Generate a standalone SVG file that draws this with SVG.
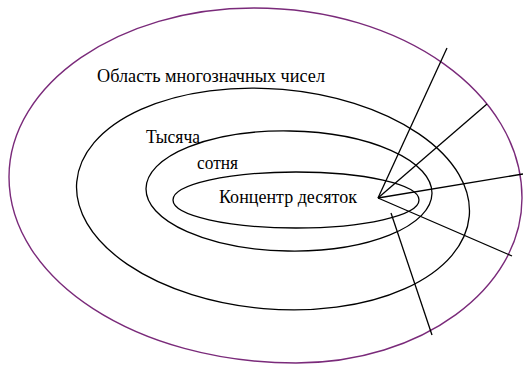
<svg xmlns="http://www.w3.org/2000/svg" width="523" height="367" viewBox="0 0 523 367">
<style>
.e{fill:none;stroke:#000;stroke-width:1.3}
.o{fill:none;stroke:#7a2a7a;stroke-width:1.4}
.l{stroke:#000;stroke-width:1.3;fill:none}
text{font-family:"Liberation Serif","Times New Roman",serif;font-size:18px;fill:#000}
</style>
<rect width="523" height="367" fill="#fff"/>
<g id="outer"><path class="o" d="M254,8 C402,8 522,93 522,198 C522,289 421,363 296,363 C137.5,363 9,280 9,177 C9,84 119,8 254,8 Z"/><text x="97" y="82" textLength="228" lengthAdjust="spacingAndGlyphs">Область многозначных чисел</text></g>
<g id="thousand"><ellipse class="e" cx="273" cy="199" rx="197" ry="110" transform="rotate(5 273 199)"/><text x="146" y="143" textLength="54" lengthAdjust="spacingAndGlyphs">Тысяча</text></g>
<g id="hundred"><ellipse class="e" cx="289" cy="191" rx="143" ry="60" transform="rotate(1 289 191)"/><text x="197" y="169" textLength="41" lengthAdjust="spacingAndGlyphs">сотня</text></g>
<g id="tens"><ellipse class="e" cx="296" cy="200" rx="123" ry="28"/><text x="219" y="203" textLength="138" lengthAdjust="spacingAndGlyphs">Концентр десяток</text></g>
<g id="connectors">
<line class="l" x1="378" y1="198" x2="447" y2="48"/>
<line class="l" x1="378" y1="198" x2="487" y2="104"/>
<line class="l" x1="378" y1="198" x2="523" y2="174"/>
<line class="l" x1="378" y1="198" x2="512" y2="256"/>
<line class="l" x1="391" y1="213" x2="432" y2="335"/>
</g>
</svg>
